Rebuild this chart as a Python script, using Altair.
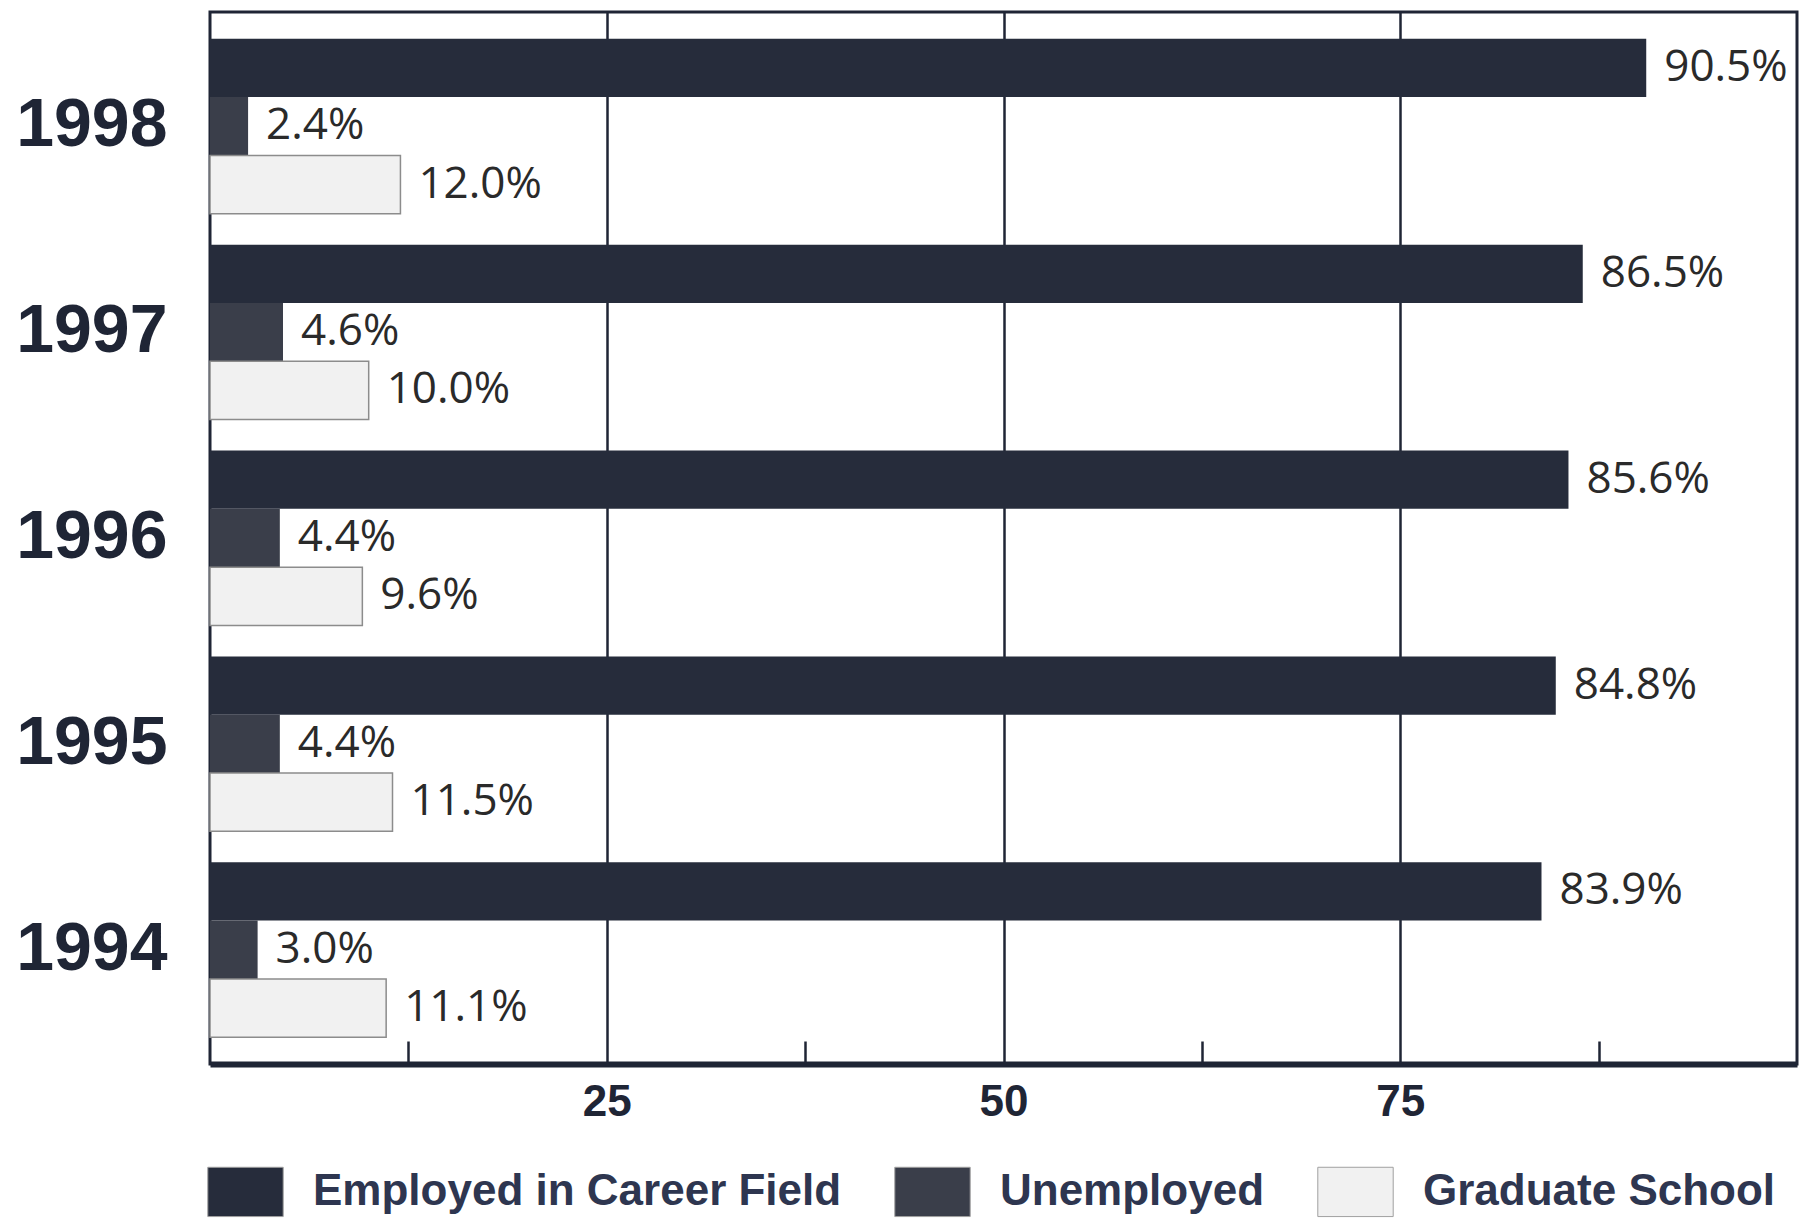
import altair as alt
import pandas as pd

years = ["1998", "1997", "1996", "1995", "1994"]
employed = [90.5, 86.5, 85.6, 84.8, 83.9]
unemployed = [2.4, 4.6, 4.4, 4.4, 3.0]
graduate = [12.0, 10.0, 9.6, 11.5, 11.1]
series = ["Employed in Career Field", "Unemployed", "Graduate School"]
colors = ["#262c3b", "#3a3e4a", "#f1f1f1"]
major_ticks = [25, 50, 75]
minor_ticks = [12.5, 37.5, 62.5, 87.5]

rows = []
for i, yr in enumerate(years):
    for s, vals in zip(series, [employed, unemployed, graduate]):
        rows.append({"year": yr, "series": s, "value": vals[i], "label": f"{vals[i]:.1f}%"})
df = pd.DataFrame(rows)

W, H = 1587, 1052
INK = "#1f2535"
BOLD = "Liberation Sans, Arial, sans-serif"

xenc = alt.X(
    "value:Q",
    scale=alt.Scale(domain=[0, 100], nice=False, zero=True),
    axis=alt.Axis(
        orient="bottom",
        values=major_ticks, title=None, ticks=False, grid=True,
        gridColor=INK, gridWidth=2.5, gridOpacity=1,
        domain=True, domainColor=INK, domainWidth=6,
        labelFont=BOLD, labelFontSize=44, labelFontWeight="bold",
        labelColor=INK, labelPadding=16,
    ),
)
yenc = alt.Y(
    "year:N", sort=years,
    scale=alt.Scale(paddingInner=0.15, paddingOuter=0.13),
    axis=alt.Axis(
        title=None, ticks=False, domain=False,
        labelFont=BOLD, labelFontSize=68,
        labelFontWeight="bold", labelColor=INK, labelPadding=43,
    ),
)
yoff = alt.YOffset("series:N", sort=series, scale=alt.Scale(paddingInner=0, paddingOuter=0))

bars = alt.Chart(df).mark_bar(stroke="#8c8c8c").encode(
    x=xenc,
    y=yenc,
    yOffset=yoff,
    color=alt.Color(
        "series:N", sort=series,
        scale=alt.Scale(domain=series, range=colors),
        legend=alt.Legend(
            orient="none", legendX=6, legendY=1150, direction="horizontal",
            title=None, symbolType="M-1.3,-0.85H1.3V0.85H-1.3Z", symbolSize=3364,
            symbolStrokeColor="#a0a0a0", symbolStrokeWidth=1, symbolOpacity=1,
            labelFont=BOLD, labelFontSize=44, labelFontWeight="bold",
            labelColor="#2e3650", labelOffset=38, columnPadding=50, labelLimit=1000,
        ),
    ),
    strokeWidth=alt.condition(alt.datum.series == "Graduate School", alt.value(1.5), alt.value(0)),
)

labels = alt.Chart(df).mark_text(
    align="left", baseline="middle", dx=18,
    font="Open Sans, Lato, sans-serif", fontSize=44, color="#2a2a2a",
).encode(
    x=alt.X("value:Q", axis=None),
    y=yenc,
    yOffset=yoff,
    text="label:N",
)

minor = alt.Chart(pd.DataFrame({"v": minor_ticks})).mark_rule(opacity=0).encode(
    x=alt.X(
        "v:Q",
        axis=alt.Axis(
            orient="bottom",
            values=minor_ticks, labels=False, domain=False, grid=False, ticks=True,
            tickSize=23, tickWidth=2.5, tickColor=INK, offset=-23, title=None,
        ),
    )
)

chart = (
    alt.layer(bars, labels, minor)
    .resolve_axis(x="independent")
    .properties(
        width=W, height=H,
        autosize=alt.AutoSizeParams(type="none"),
        padding={"left": 210, "top": 12, "right": 6, "bottom": 156},
        background="white",
    )
    .configure_view(stroke=INK, strokeWidth=3)
)

chart.save("out.html", embed_options={"renderer": "svg", "actions": False})
